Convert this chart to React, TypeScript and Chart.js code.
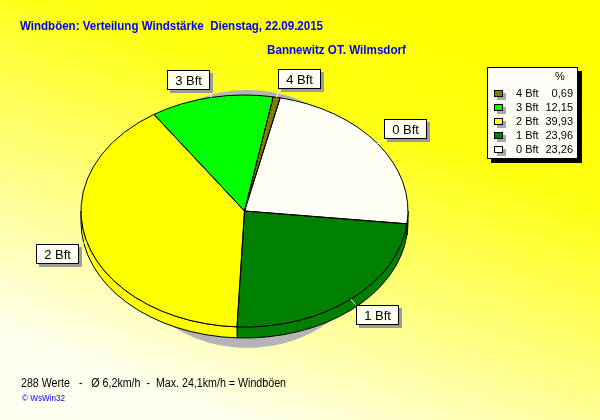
import React, { useEffect, useRef } from 'react';
import { Chart, registerables } from 'chart.js';

Chart.register(...registerables);

// ---- data ----
const categories = ['0 Bft', '1 Bft', '2 Bft', '3 Bft', '4 Bft'];
const percentages = [23.26, 23.96, 39.93, 12.15, 0.69];
const sliceColors = ['#FFFFF5', '#008000', '#FFFF00', '#00FF00', '#808000'];
const legendSwatchColors = ['#FFFFFF', '#008000', '#FFFF00', '#00FF00', '#808000'];
const titleText = 'Windböen: Verteilung Windstärke  Dienstag, 22.09.2015';
const subtitleText = 'Bannewitz OT. Wilmsdorf';
const footerText = '288 Werte   -   Ø 6,2km/h  -  Max. 24,1km/h = Windböen';
const creditText = '© WsWin32';
const percentHeader = '%';

// ---- styling constants ----
const SQUASH = 116 / 163.5;
const DEPTH = 11;
const FONT = '"Liberation Sans", Arial, sans-serif';

const fmt = (v: number) => v.toFixed(2).replace('.', ',');

const bgPlugin = {
  id: 'bgGradient',
  beforeDraw(chart: any) {
    const { ctx, width, height } = chart;
    ctx.save();
    const g = ctx.createLinearGradient(380, 0, 220, height);
    g.addColorStop(0, '#FFFF00');
    g.addColorStop(0.25, '#FFFF10');
    g.addColorStop(1, '#FFFFF2');
    ctx.fillStyle = g;
    ctx.fillRect(0, 0, width, height);
    ctx.restore();
  },
};

function arcProps(a: any) {
  return a.getProps(['x', 'y', 'startAngle', 'endAngle', 'outerRadius'], true);
}

const pie3dPlugin = {
  id: 'pie3d',
  beforeDatasetsDraw(chart: any) {
    const ctx = chart.ctx;
    const arcs = chart.getDatasetMeta(0).data;
    if (!arcs.length) return;
    const { x: cx, y: cy, outerRadius: r } = arcProps(arcs[0]);
    const ry = r * SQUASH;
    ctx.save();
    // drop shadow
    ctx.fillStyle = '#B4B4B4';
    ctx.beginPath();
    ctx.ellipse(cx + 3, cy + 8, r * 0.83, ry + 13, 0, 0, Math.PI * 2);
    ctx.fill();
    // 3D side walls (front half)
    ctx.lineWidth = 1;
    ctx.strokeStyle = '#000000';
    arcs.forEach((a: any) => {
      const p = arcProps(a);
      for (const off of [-2 * Math.PI, 0, 2 * Math.PI]) {
        const ss = Math.max(p.startAngle + off, 0);
        const ee = Math.min(p.endAngle + off, Math.PI);
        if (ee <= ss) continue;
        ctx.beginPath();
        ctx.ellipse(cx, cy, r, ry, 0, ss, ee, false);
        ctx.ellipse(cx, cy + DEPTH, r, ry, 0, ee, ss, true);
        ctx.closePath();
        ctx.fillStyle = a.options.backgroundColor;
        ctx.fill();
        ctx.stroke();
      }
    });
    ctx.restore();
    // squash the top face drawn by Chart.js
    ctx.save();
    ctx.translate(cx, cy);
    ctx.scale(1, SQUASH);
    ctx.translate(-cx, -cy);
  },
  afterDatasetsDraw(chart: any) {
    const ctx = chart.ctx;
    const arcs = chart.getDatasetMeta(0).data;
    if (!arcs.length) return;
    ctx.restore();
    const { x: cx, y: cy, outerRadius: r } = arcProps(arcs[0]);
    const ry = r * SQUASH;
    ctx.save();
    ctx.lineWidth = 1;
    ctx.strokeStyle = '#000000';
    arcs.forEach((a: any) => {
      const p = arcProps(a);
      ctx.beginPath();
      ctx.moveTo(cx, cy);
      ctx.ellipse(cx, cy, r, ry, 0, p.startAngle, p.endAngle, false);
      ctx.closePath();
      ctx.stroke();
    });
    // labels
    ctx.font = `13px ${FONT}`;
    ctx.textBaseline = 'middle';
    ctx.textAlign = 'center';
    arcs.forEach((a: any, i: number) => {
      const p = arcProps(a);
      const m = (p.startAngle + p.endAngle) / 2;
      const dx = Math.cos(m);
      const dy = Math.sin(m);
      const px = cx + r * dx;
      const py = cy + ry * dy;
      ctx.strokeStyle = '#FFFFFF';
      ctx.beginPath();
      ctx.moveTo(px, py);
      ctx.lineTo(px + dx * 7, py + dy * 7);
      ctx.stroke();
      const c = { x: px + dx * 8, y: py + dy * 8 };
      const text = categories[i];
      const w = Math.round(ctx.measureText(text).width + 16);
      const h = 20;
      const left = Math.round(dx >= 0 ? c.x : c.x - w);
      const top = Math.round(dy < 0 ? c.y - h : c.y);
      ctx.fillStyle = '#9C9C9C';
      ctx.fillRect(left + 3, top + 3, w, h);
      ctx.fillStyle = '#FFFFF0';
      ctx.fillRect(left, top, w, h);
      ctx.strokeStyle = '#000000';
      ctx.strokeRect(left + 0.5, top + 0.5, w - 1, h - 1);
      ctx.fillStyle = '#000000';
      ctx.fillText(text, left + w / 2, top + h / 2 + 1);
    });
    ctx.restore();
  },
};

const textPlugin = {
  id: 'texts',
  afterDraw(chart: any) {
    const ctx = chart.ctx;
    ctx.save();
    ctx.textAlign = 'left';
    ctx.textBaseline = 'alphabetic';
    ctx.fillStyle = '#0000FF';
    ctx.font = `bold 13px ${FONT}`;
    ctx.fillText(titleText, 20, 30, 303);
    ctx.fillText(subtitleText, 267, 54, 139);

    ctx.fillStyle = '#000000';
    ctx.font = `12px ${FONT}`;
    ctx.fillText(footerText, 21, 387, 265);
    ctx.fillStyle = '#0000FF';
    ctx.font = `9px ${FONT}`;
    ctx.fillText(creditText, 22, 401, 43);

    // legend
    const lx = 487, ly = 67, lw = 91, lh = 92;
    ctx.fillStyle = '#000000';
    ctx.fillRect(lx + 4, ly + 4, lw, lh);
    ctx.fillStyle = '#FFFFF8';
    ctx.fillRect(lx, ly, lw, lh);
    ctx.strokeStyle = '#000000';
    ctx.lineWidth = 1;
    ctx.strokeRect(lx + 0.5, ly + 0.5, lw - 1, lh - 1);
    ctx.font = `11px ${FONT}`;
    ctx.textBaseline = 'middle';
    ctx.fillStyle = '#000000';
    ctx.textAlign = 'center';
    ctx.fillText(percentHeader, 560, 77);
    const n = categories.length;
    for (let j = 0; j < n; j++) {
      const idx = n - 1 - j;
      const yc = Math.round(93 + j * 14.1);
      ctx.fillStyle = '#A8A8A8';
      ctx.fillRect(497, yc - 3 + 3, 9, 7);
      ctx.fillStyle = legendSwatchColors[idx];
      ctx.fillRect(494, yc - 3, 9, 7);
      ctx.strokeStyle = '#000000';
      ctx.strokeRect(494.5, yc - 2.5, 8, 6);
      ctx.fillStyle = '#000000';
      ctx.textAlign = 'left';
      ctx.fillText(categories[idx], 516, yc + 1);
      ctx.textAlign = 'right';
      ctx.fillText(fmt(percentages[idx]), 573, yc + 1);
    }
    ctx.restore();
  },
};

export default function App() {
  const ref = useRef<HTMLCanvasElement | null>(null);
  useEffect(() => {
    document.body.style.margin = '0';
    if (!ref.current) return;
    const chart = new Chart(ref.current, {
      type: 'pie',
      data: {
        labels: categories,
        datasets: [
          {
            data: percentages,
            backgroundColor: sliceColors,
            borderWidth: 0,
            clip: false as any,
          },
        ],
      },
      options: {
        responsive: false,
        animation: false,
        devicePixelRatio: 1,
        rotation: 12.6,
        layout: { padding: { left: 81, right: 192, top: 47.5, bottom: 45.5 } },
        plugins: {
          legend: { display: false },
          tooltip: { enabled: false },
          title: { display: false },
        },
      },
      plugins: [bgPlugin, pie3dPlugin, textPlugin],
    });
    return () => chart.destroy();
  }, []);
  return <canvas ref={ref} width={600} height={420} style={{ display: 'block' }} />;
}
